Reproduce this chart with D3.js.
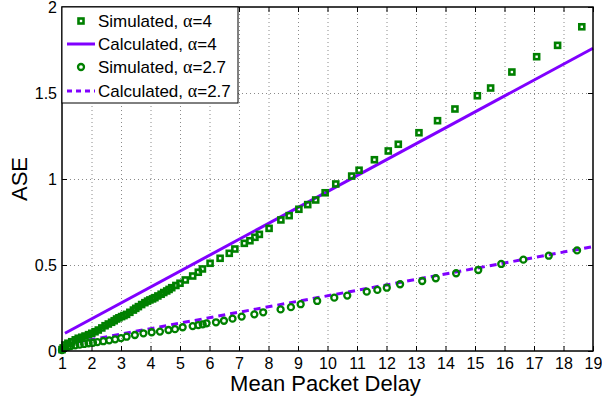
<!DOCTYPE html>
<html>
<head>
<meta charset="utf-8">
<script src="https://cdn.jsdelivr.net/npm/d3@7"></script>
<style>
  body { margin: 0; background: #fff; }
  svg { font-family: "Liberation Sans", Arial, sans-serif; }
  .grid line { stroke: #8a8a8a; stroke-dasharray: 1,3; stroke-width: 1; }
  .grid .domain { display: none; }
</style>
</head>
<body>
<svg width="602" height="401"></svg>
<script>
// ticks
var xTicks = d3.range(1, 20);
var yTicks = [0, 0.5, 1, 1.5, 2];

// Simulated, alpha=4 (squares)
var sim4X = [1.0, 1.04, 1.1, 1.2, 1.33, 1.45, 1.55, 1.67, 1.78, 1.9, 2.01, 2.12, 2.23, 2.35, 2.46, 2.57,
  2.68, 2.77, 2.85, 2.93, 3.02, 3.1, 3.19, 3.3, 3.42, 3.5, 3.59, 3.7, 3.81, 3.9, 3.98, 4.07, 4.15,
  4.25, 4.36, 4.45, 4.55, 4.63, 4.72, 4.86, 5.0, 5.18, 5.43, 5.62, 5.76, 6.02, 6.36, 6.67, 6.86,
  7.18, 7.37, 7.54, 7.69, 8.02, 8.42, 8.70, 9.03, 9.33, 9.60, 9.92, 10.28, 10.82, 11.07, 11.59,
  12.06, 12.40, 13.10, 13.73, 14.32, 15.08, 15.53, 16.25, 17.09, 17.80, 18.62];
var sim4Y = [0.008, 0.018, 0.035, 0.045, 0.054, 0.065, 0.074, 0.080, 0.087, 0.095, 0.103, 0.112, 0.122,
  0.134, 0.147, 0.157, 0.167, 0.176, 0.186, 0.193, 0.200, 0.206, 0.213, 0.225, 0.238, 0.248, 0.258,
  0.270, 0.281, 0.290, 0.297, 0.303, 0.310, 0.320, 0.330, 0.340, 0.349, 0.358, 0.368, 0.381, 0.394,
  0.413, 0.436, 0.458, 0.477, 0.510, 0.539, 0.568, 0.593, 0.626, 0.641, 0.661, 0.678, 0.713, 0.762,
  0.787, 0.824, 0.851, 0.878, 0.920, 0.971, 1.017, 1.051, 1.112, 1.163, 1.202, 1.269, 1.339, 1.407,
  1.484, 1.529, 1.622, 1.711, 1.777, 1.885];

// Simulated, alpha=2.7 (circles)
var sim27X = [1.0, 1.05, 1.1, 1.2, 1.3, 1.45, 1.6, 1.75, 1.9, 2.05, 2.2, 2.4, 2.6, 2.8, 3.0, 3.19, 3.47,
  3.76, 4.04, 4.32, 4.61, 4.83, 5.09, 5.43, 5.62, 5.77, 5.90, 6.22, 6.49, 6.78, 7.09, 7.52, 7.82,
  8.41, 8.76, 9.09, 9.65, 10.23, 10.67, 11.33, 11.69, 12.01, 12.46, 13.21, 13.67, 14.36, 15.11,
  15.89, 16.64, 17.50, 18.46];
var sim27Y = [0.005, 0.012, 0.018, 0.024, 0.028, 0.033, 0.037, 0.041, 0.045, 0.048, 0.052, 0.057, 0.062,
  0.068, 0.075, 0.083, 0.093, 0.103, 0.109, 0.113, 0.122, 0.127, 0.138, 0.145, 0.151, 0.155, 0.161,
  0.167, 0.176, 0.188, 0.200, 0.213, 0.225, 0.242, 0.255, 0.272, 0.291, 0.310, 0.322, 0.345, 0.355,
  0.368, 0.388, 0.407, 0.423, 0.452, 0.471, 0.506, 0.531, 0.554, 0.585];

// Calculated curves
var calcX = [1.1, 19];
var calc4Y = [0.103, 1.76];
var calc27Y = [0.038, 0.607];

var legendLabels = ["Simulated, ", "Calculated, ", "Simulated, ", "Calculated, "];
var legendAlpha = ["=4", "=4", "=2.7", "=2.7"];

var green = "#008000", purple = "#8000ff";

var svgWidth = 602, svgHeight = 401;
var margin = { top: 7, right: 9, bottom: 50, left: 62 };
var width = svgWidth - margin.left - margin.right;
var height = svgHeight - margin.top - margin.bottom;

var svg = d3.select("svg");
var g = svg.append("g")
  .attr("transform", "translate(" + margin.left + "," + margin.top + ")");

var x = d3.scaleLinear().domain([1, 19]).range([0, width]);
var y = d3.scaleLinear().domain([0, 2]).range([height, 0]);

// grid
g.append("g").attr("class", "grid")
  .attr("transform", "translate(0," + height + ")")
  .call(d3.axisBottom(x).tickValues(xTicks.slice(1, -1)).tickSize(-height).tickFormat(""));
g.append("g").attr("class", "grid")
  .call(d3.axisLeft(y).tickValues(yTicks.slice(1, -1)).tickSize(-width).tickFormat(""));

function zip(xs, ys) { return xs.map(function(v, i) { return { x: v, y: ys[i] }; }); }

var line = d3.line()
  .x(function(d) { return x(d.x); })
  .y(function(d) { return y(d.y); });

// calculated lines
g.append("path").datum(zip(calcX, calc4Y))
  .attr("fill", "none").attr("stroke", purple).attr("stroke-width", 3).attr("d", line);
g.append("path").datum(zip(calcX, calc27Y))
  .attr("fill", "none").attr("stroke", purple).attr("stroke-width", 3)
  .attr("stroke-dasharray", "7,5").attr("d", line);

// simulated markers
g.append("g").selectAll("rect").data(zip(sim4X, sim4Y)).enter().append("rect")
  .attr("x", function(d) { return x(d.x) - 2.5; })
  .attr("y", function(d) { return y(d.y) - 2.5; })
  .attr("width", 5).attr("height", 5)
  .attr("fill", "none").attr("stroke", green).attr("stroke-width", 2.6);

g.append("g").selectAll("circle").data(zip(sim27X, sim27Y)).enter().append("circle")
  .attr("cx", function(d) { return x(d.x); })
  .attr("cy", function(d) { return y(d.y); })
  .attr("r", 3)
  .attr("fill", "none").attr("stroke", green).attr("stroke-width", 2.3);

// axes with inward ticks
var xAxis = g.append("g")
  .attr("transform", "translate(0," + height + ")")
  .call(d3.axisBottom(x).tickValues(xTicks).tickSize(-5).tickPadding(7).tickFormat(d3.format("d")));
var yAxis = g.append("g")
  .call(d3.axisLeft(y).tickValues(yTicks).tickSize(-5).tickPadding(5).tickFormat(function(d) { return d; }));
g.append("g").call(d3.axisTop(x).tickValues(xTicks).tickSize(-5).tickFormat(""));
g.append("g").attr("transform", "translate(" + width + ",0)")
  .call(d3.axisRight(y).tickValues(yTicks).tickSize(-5).tickFormat(""));

g.selectAll(".domain").remove();
g.selectAll(".tick line").filter(function() { return !this.parentNode.parentNode.classList.contains("grid"); })
  .attr("stroke", "#000").attr("stroke-width", 1);
xAxis.selectAll("text").attr("font-size", 16).attr("fill", "#000").attr("font-family", "Liberation Sans");
yAxis.selectAll("text").attr("font-size", 16).attr("fill", "#000").attr("font-family", "Liberation Sans");

g.append("rect").attr("width", width).attr("height", height)
  .attr("fill", "none").attr("stroke", "#000").attr("stroke-width", 1.5);

// axis labels
svg.append("text")
  .attr("x", margin.left + width / 2 - 2).attr("y", 391)
  .attr("text-anchor", "middle").attr("font-size", 22).text("Mean Packet Delay");
svg.append("text")
  .attr("transform", "translate(27," + (margin.top + height / 2) + ") rotate(-90)")
  .attr("text-anchor", "middle").attr("font-size", 22).text("ASE");

// legend
var leg = svg.append("g").attr("transform", "translate(62,7)");
leg.append("rect").attr("width", 176).attr("height", 96)
  .attr("fill", "#fff").attr("stroke", "#000").attr("stroke-width", 1);
var rowY = [14, 37, 60, 84];
leg.append("rect").attr("x", 19 - 2.5).attr("y", rowY[0] - 2.5).attr("width", 5).attr("height", 5)
  .attr("fill", "none").attr("stroke", green).attr("stroke-width", 2.6);
leg.append("line").attr("x1", 5).attr("x2", 33).attr("y1", rowY[1]).attr("y2", rowY[1])
  .attr("stroke", purple).attr("stroke-width", 3);
leg.append("circle").attr("cx", 19).attr("cy", rowY[2]).attr("r", 3)
  .attr("fill", "none").attr("stroke", green).attr("stroke-width", 2.3);
leg.append("line").attr("x1", 5).attr("x2", 33).attr("y1", rowY[3]).attr("y2", rowY[3])
  .attr("stroke", purple).attr("stroke-width", 3).attr("stroke-dasharray", "5,4");

legendLabels.forEach(function(lbl, i) {
  var t = leg.append("text").attr("x", 36).attr("y", rowY[i] + 6).attr("font-size", 17);
  t.append("tspan").text(lbl);
  t.append("tspan").attr("font-family", "Liberation Serif").attr("font-size", 18).text("\u03b1");
  t.append("tspan").text(legendAlpha[i]);
});
</script>
</body>
</html>
